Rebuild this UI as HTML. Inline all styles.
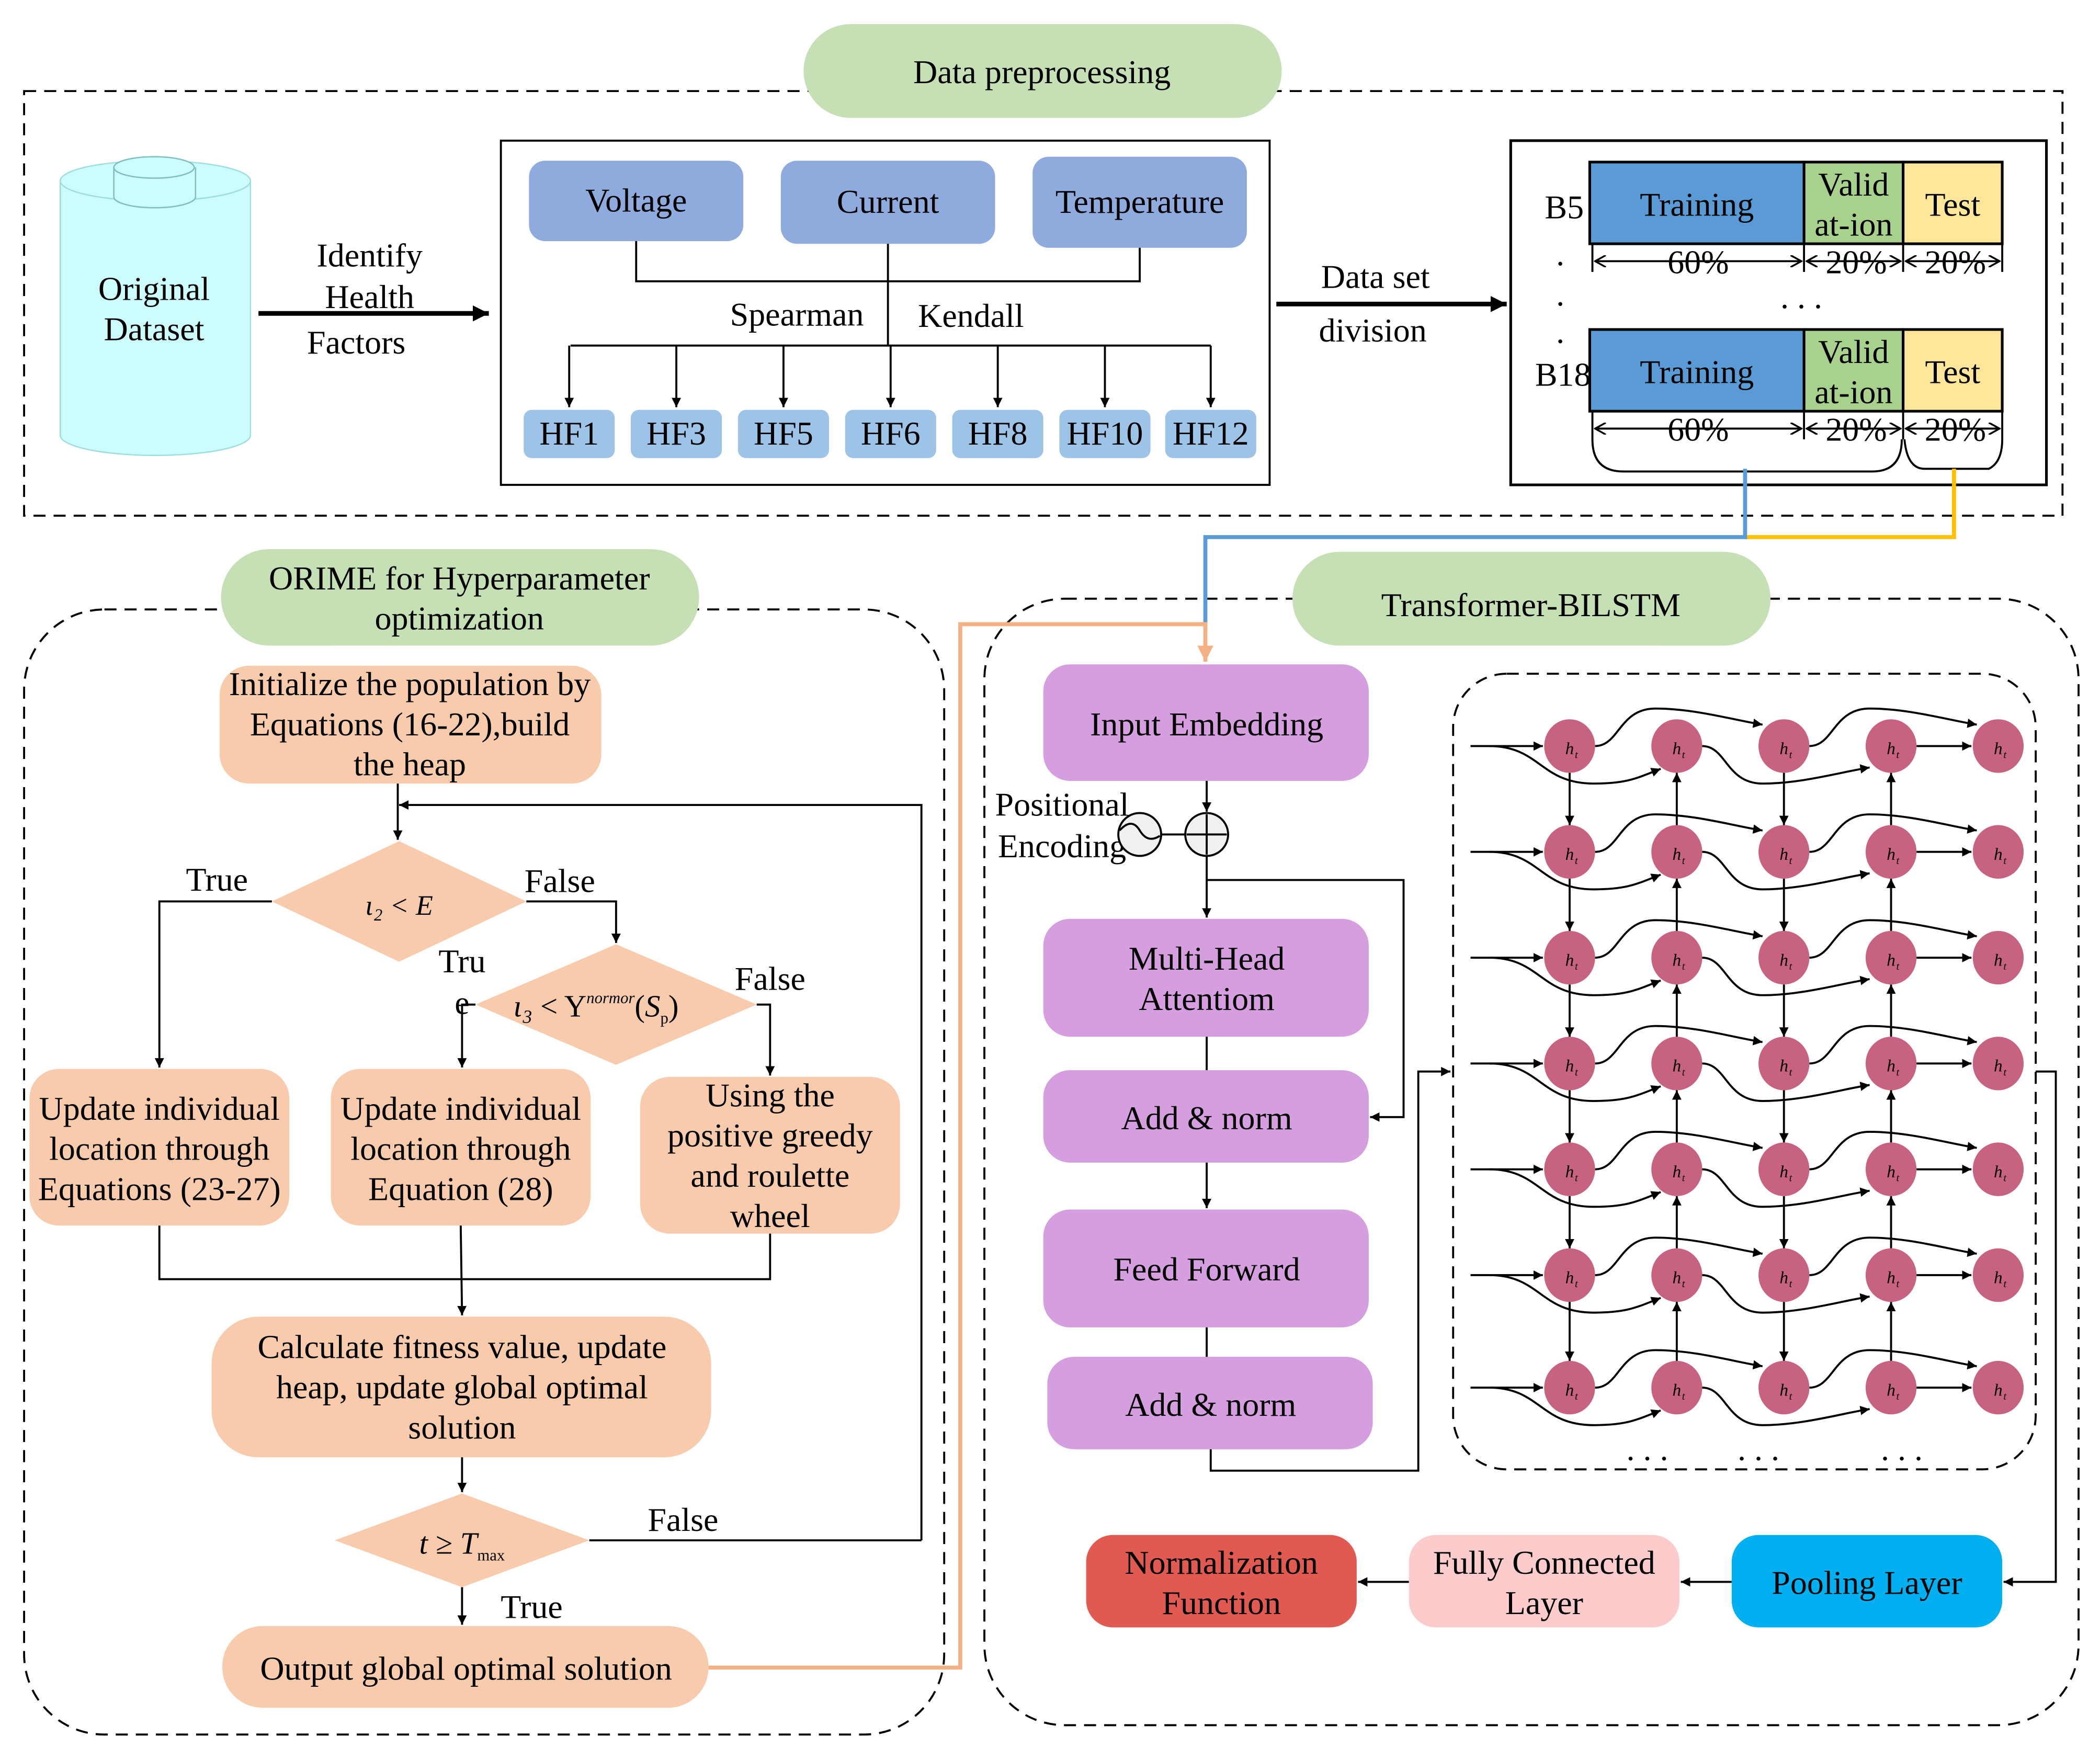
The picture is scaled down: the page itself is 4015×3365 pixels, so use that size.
<!DOCTYPE html>
<html><head><meta charset="utf-8"><style>html,body{margin:0;padding:0;background:#fff}svg{display:block}text{font-family:"Liberation Serif",serif;fill:#000}</style></head>
<body>
<svg id="s" xmlns="http://www.w3.org/2000/svg" width="4015" height="3365" viewBox="0 0 1568 1314" preserveAspectRatio="none">
<defs>
<marker id="a" viewBox="0 0 10 10" refX="10" refY="5" markerWidth="7" markerHeight="7" orient="auto" markerUnits="userSpaceOnUse"><path d="M0,0 L10,5 L0,10 z" fill="#000"/></marker>
<marker id="ab" viewBox="0 0 10 10" refX="10" refY="5" markerWidth="12" markerHeight="12" orient="auto" markerUnits="userSpaceOnUse"><path d="M0,0 L10,5 L0,10 z" fill="#000"/></marker>
<marker id="ao" viewBox="0 0 10 10" refX="10" refY="5" markerWidth="12" markerHeight="12" orient="auto" markerUnits="userSpaceOnUse"><path d="M0,0 L10,5 L0,10 z" fill="#f4b183"/></marker>
<marker id="d" viewBox="0 0 10 10" refX="9" refY="5" markerWidth="9" markerHeight="9" orient="auto-start-reverse" markerUnits="userSpaceOnUse"><path d="M0,0 L9,5 L0,10" fill="none" stroke="#000" stroke-width="1.5"/></marker>
</defs>
<g fill="none" stroke="#000" stroke-width="1.5" stroke-dasharray="9,6">
<rect x="18" y="68" width="1522" height="317"/>
<rect x="18" y="455" width="687" height="840" rx="60"/>
<rect x="735" y="447" width="817" height="841" rx="60"/>
<rect x="1085" y="503" width="435" height="594" rx="40"/>
</g>
<g font-size="25" text-anchor="middle">
<rect x="600" y="18" width="357" height="70" rx="35" fill="#c5e0b4"/><text x="778" y="62">Data preprocessing</text>
<rect x="165" y="410" width="357" height="72" rx="36" fill="#c5e0b4"/><text x="343" y="440">ORIME for Hyperparameter</text><text x="343" y="470">optimization</text>
<rect x="965" y="412" width="357" height="70" rx="35" fill="#c5e0b4"/><text x="1143" y="460">Transformer-BILSTM</text>
<path d="M45,135 L45,325 A71,15 0 0 0 187,325 L187,135" fill="#ccfcfc" stroke="#9fdede"/>
<ellipse cx="116" cy="135" rx="71" ry="15" fill="#ccfcfc" stroke="#9fdede"/>
<path d="M85,125 L85,147 A30,8 0 0 0 146,147 L146,125" fill="#ccfcfc" stroke="#7fbfbf"/>
<ellipse cx="115" cy="125" rx="30" ry="8" fill="#ccfcfc" stroke="#7fbfbf"/>
<text x="115" y="224">Original</text><text x="115" y="254">Dataset</text>
<text x="276" y="199">Identify</text><text x="276" y="230">Health</text><text x="266" y="264">Factors</text>
<line x1="193" y1="234" x2="365" y2="234" stroke="#000" stroke-width="3.5" marker-end="url(#ab)"/>
<rect x="374" y="105" width="574" height="257" fill="#fff" stroke="#000" stroke-width="1.5"/>
<rect x="395" y="120" width="160" height="60" rx="12" fill="#8faadc"/><text x="475" y="158">Voltage</text>
<rect x="583" y="120" width="160" height="62" rx="12" fill="#8faadc"/><text x="663" y="159">Current</text>
<rect x="771" y="117" width="160" height="68" rx="12" fill="#8faadc"/><text x="851" y="159">Temperature</text>
<g stroke="#000" stroke-width="1.5" fill="none">
<polyline points="475,180 475,210 851,210 851,185"/>
<line x1="663" y1="182" x2="663" y2="258"/>
<line x1="426" y1="258" x2="904" y2="258"/>
</g>
<text x="595" y="243">Spearman</text><text x="725" y="244">Kendall</text>
<g id="hf"></g>
<text x="1027" y="215">Data set</text><text x="1025" y="255">division</text>
<line x1="953" y1="227" x2="1125" y2="227" stroke="#000" stroke-width="3.5" marker-end="url(#ab)"/>
<rect x="1128" y="105" width="400" height="257" fill="#fff" stroke="#000" stroke-width="2"/>
<g id="ds"></g>
<text x="1168" y="163">B5</text><text x="1167" y="288">B18</text>
<text x="1165" y="198">.</text><text x="1165" y="228">.</text><text x="1165" y="256">.</text>
<text x="1345" y="230">. . .</text>
<path d="M1189,328 Q1189,352 1212,352 L1398,352 Q1420,352 1420,328" fill="none" stroke="#000" stroke-width="1.5"/>
<path d="M1422,328 Q1424,350 1437,350 L1485,350 Q1495,345 1495,328" fill="none" stroke="#000" stroke-width="1.5"/>
<polyline points="1459,350 1459,401 1303,401" fill="none" stroke="#ffc000" stroke-width="3"/>
<polyline points="1303,350 1303,401 900,401 900,470" fill="none" stroke="#5b9bd5" stroke-width="3"/>
<polyline points="529,1245 717,1245 717,466 900,466 900,494" fill="none" stroke="#f4b183" stroke-width="3" marker-end="url(#ao)"/>

<g fill="#f8cbad">
<rect x="164" y="497" width="285" height="88" rx="22"/>
<polygon points="203,673 298,628 393,673 298,718"/>
<polygon points="355,750 460,705 565,750 460,795"/>
<rect x="22" y="798" width="194" height="117" rx="22"/>
<rect x="247" y="798" width="194" height="117" rx="22"/>
<rect x="478" y="804" width="194" height="117" rx="22"/>
<rect x="158" y="983" width="373" height="105" rx="35"/>
<polygon points="250,1150 345,1115 440,1150 345,1185"/>
<rect x="166" y="1214" width="363" height="61" rx="30"/>
</g>
<text x="306" y="519">Initialize the population by</text><text x="306" y="549">Equations (16-22),build</text><text x="306" y="579">the heap</text>
<text x="298" y="683" font-style="italic" font-size="21">ι₂ &lt; E</text>
<text x="445" y="759" font-size="23"><tspan font-style="italic">ι₃</tspan> &lt; Υ<tspan font-size="12" dy="-10" font-style="italic">normor</tspan><tspan dy="10">(</tspan><tspan font-style="italic">S</tspan><tspan font-size="12" dy="5">p</tspan><tspan dy="-5">)</tspan></text>
<text x="119" y="836">Update individual</text><text x="119" y="866">location through</text><text x="119" y="896">Equations (23-27)</text>
<text x="344" y="836">Update individual</text><text x="344" y="866">location through</text><text x="344" y="896">Equation (28)</text>
<text x="575" y="826">Using the</text><text x="575" y="856">positive greedy</text><text x="575" y="886">and roulette</text><text x="575" y="916">wheel</text>
<text x="345" y="1014">Calculate fitness value, update</text><text x="345" y="1044">heap, update global optimal</text><text x="345" y="1074">solution</text>
<text x="345" y="1160" font-style="italic" font-size="23">t ≥ T<tspan font-size="12" dy="5" font-style="normal">max</tspan></text>
<text x="348" y="1254">Output global optimal solution</text>
<text x="162" y="665">True</text><text x="418" y="666">False</text><text x="345" y="726">Tru</text><text x="345" y="757">e</text><text x="575" y="739">False</text>
<text x="510" y="1143">False</text><text x="397" y="1208">True</text>
<g stroke="#000" stroke-width="1.5" fill="none">
<line x1="297" y1="585" x2="297" y2="627" marker-end="url(#a)"/>
<polyline points="688,1150 688,601 298,601" marker-end="url(#a)"/>
<polyline points="203,673 119,673 119,797" marker-end="url(#a)"/>
<polyline points="393,673 460,673 460,704" marker-end="url(#a)"/>
<polyline points="355,750 345,750 345,797" marker-end="url(#a)"/>
<polyline points="565,750 575,750 575,803" marker-end="url(#a)"/>
<polyline points="119,915 119,955 575,955 575,921"/>
<line x1="344" y1="915" x2="345" y2="982" marker-end="url(#a)"/>
<line x1="345" y1="1088" x2="345" y2="1114" marker-end="url(#a)"/>
<line x1="440" y1="1150" x2="688" y2="1150"/>
<line x1="345" y1="1185" x2="345" y2="1213" marker-end="url(#a)"/>
</g>

<g fill="#d59fdf">
<rect x="779" y="496" width="243" height="87" rx="20"/>
<rect x="779" y="686" width="243" height="88" rx="20"/>
<rect x="779" y="799" width="243" height="69" rx="20"/>
<rect x="779" y="903" width="243" height="88" rx="20"/>
<rect x="782" y="1013" width="243" height="69" rx="20"/>
</g>
<text x="901" y="549">Input Embedding</text>
<text x="901" y="724">Multi-Head</text><text x="901" y="754">Attentiom</text>
<text x="901" y="843">Add &amp; norm</text><text x="901" y="956">Feed Forward</text><text x="904" y="1057">Add &amp; norm</text>
<text x="793" y="609">Positional</text><text x="793" y="640">Encoding</text>
<g stroke="#000" stroke-width="1.5" fill="none">
<line x1="901" y1="583" x2="901" y2="606" marker-end="url(#a)"/>
<circle cx="851" cy="623" r="16" fill="#f0f0f0"/><path d="M836,620 Q845,610 851,620 T866,624"/>
<line x1="867" y1="623" x2="885" y2="623"/>
<circle cx="901" cy="623" r="16" fill="#f0f0f0"/><path d="M886,623 H916 M901,608 V638"/>
<line x1="901" y1="639" x2="901" y2="685" marker-end="url(#a)"/>
<polyline points="901,657 1048,657 1048,834 1023,834" marker-end="url(#a)"/>
<line x1="901" y1="774" x2="901" y2="799"/>
<line x1="901" y1="868" x2="901" y2="902" marker-end="url(#a)"/>
<line x1="901" y1="991" x2="901" y2="1013"/>
<polyline points="904,1082 904,1098 1059,1098 1059,800 1083,800" marker-end="url(#a)"/>
<polyline points="1520,800 1535,800 1535,1181 1496,1181" marker-end="url(#a)"/>
<line x1="1293" y1="1181" x2="1255" y2="1181" marker-end="url(#a)"/>
<line x1="1052" y1="1181" x2="1014" y2="1181" marker-end="url(#a)"/>
</g>
<rect x="1293" y="1146" width="202" height="69" rx="20" fill="#00b0f0"/><text x="1394" y="1190">Pooling Layer</text>
<rect x="1052" y="1146" width="202" height="69" rx="20" fill="#fccccc"/><text x="1153" y="1175">Fully Connected</text><text x="1153" y="1205">Layer</text>
<rect x="811" y="1146" width="202" height="69" rx="20" fill="#e05a52"/><text x="912" y="1175">Normalization</text><text x="912" y="1205">Function</text>
<text x="1230" y="1090">. . .</text><text x="1313" y="1090">. . .</text><text x="1420" y="1090">. . .</text>
<g id="lstm"></g>
</g>
</svg>
<script>
var NS="http://www.w3.org/2000/svg";
function el(p,t,a,txt){var e=document.createElementNS(NS,t);for(var k in a)e.setAttribute(k,a[k]);if(txt)e.textContent=txt;p.appendChild(e);return e;}
var hf=document.getElementById("hf");
[["HF1",425],["HF3",505],["HF5",585],["HF6",665],["HF8",745],["HF10",825],["HF12",904]].forEach(function(h){
 el(hf,"line",{x1:h[1],y1:258,x2:h[1],y2:304,stroke:"#000","stroke-width":1.5,"marker-end":"url(#a)"});
 el(hf,"rect",{x:h[1]-34,y:306,width:68,height:36,rx:6,fill:"#9dc3e6"});
 el(hf,"text",{x:h[1],y:332},h[0]);
});
var ds=document.getElementById("ds");
[[121,195],[246,320]].forEach(function(r){
 var y=r[0],h=61;
 el(ds,"rect",{x:1187,y:y,width:160,height:h,fill:"#5b9bd5",stroke:"#000","stroke-width":2});
 el(ds,"rect",{x:1347,y:y,width:74,height:h,fill:"#a9d18e",stroke:"#000","stroke-width":2});
 el(ds,"rect",{x:1421,y:y,width:74,height:h,fill:"#ffe699",stroke:"#000","stroke-width":2});
 el(ds,"text",{x:1267,y:y+40},"Training");
 el(ds,"text",{x:1384,y:y+25},"Valid");el(ds,"text",{x:1384,y:y+55},"at-ion");
 el(ds,"text",{x:1458,y:y+40},"Test");
 var d=r[1];
 [1189,1347,1421,1495].forEach(function(x){el(ds,"line",{x1:x,y1:y+h,x2:x,y2:d+8,stroke:"#000","stroke-width":1.5});});
 [[1189,1347],[1347,1421],[1421,1495]].forEach(function(s){el(ds,"line",{x1:s[0]+2,y1:d,x2:s[1]-2,y2:d,stroke:"#000","stroke-width":1.5,"marker-start":"url(#d)","marker-end":"url(#d)"});});
 el(ds,"text",{x:1268,y:d+9},"60%");el(ds,"text",{x:1386,y:d+9},"20%");el(ds,"text",{x:1460,y:d+9},"20%");
});
var g=document.getElementById("lstm");
var X=[1172,1252,1332,1412,1492],Y=[557,636,715,794,873,952,1036];
var S={stroke:"#000","stroke-width":1.5,fill:"none"};
function P(d,m){var a={d:d};for(var k in S)a[k]=S[k];if(m)a["marker-end"]="url(#a)";el(g,"path",a);}
Y.forEach(function(y,i){
 P("M1098,"+y+" L1152,"+y,1);
 P("M1112,"+y+" C1150,"+y+" 1150,"+(y+28)+" 1190,"+(y+28)+" C1215,"+(y+28)+" 1222,"+(y+24)+" 1240,"+(y+17),1);
 [[0,2,-1],[1,3,1],[2,4,-1]].forEach(function(c){
  var x0=X[c[0]]+19,x1=X[c[1]]-16,s=c[2];
  P("M"+x0+","+y+" C"+(x0+18)+","+y+" "+(x0+18)+","+(y+28*s)+" "+(x0+45)+","+(y+28*s)+" C"+(x0+75)+","+(y+28*s)+" "+(x1-20)+","+(y+19*s)+" "+x1+","+(y+16*s),1);
 });
 P("M"+(X[3]+19)+","+y+" L"+(X[4]-20)+","+y,1);
 if(i<Y.length-1){var ny=Y[i+1];
  P("M"+X[0]+","+(y+20)+" L"+X[0]+","+(ny-20),1);
  P("M"+X[2]+","+(y+20)+" L"+X[2]+","+(ny-20),1);
  P("M"+X[1]+","+(ny-20)+" L"+X[1]+","+(y+20),1);
  P("M"+X[3]+","+(ny-20)+" L"+X[3]+","+(y+20),1);
 }
});
Y.forEach(function(y){X.forEach(function(x,j){
 el(g,"ellipse",{cx:x,cy:y,rx:19,ry:20,fill:"#c8637f"});
 el(g,"text",{x:x,y:y+6,"font-size":13,"font-style":"italic",fill:"#333"},"h");
 el(g,"text",{x:x+5,y:y+9,"font-size":8,"font-style":"italic",fill:"#333"},"t");
});});
</script>
</body></html>
